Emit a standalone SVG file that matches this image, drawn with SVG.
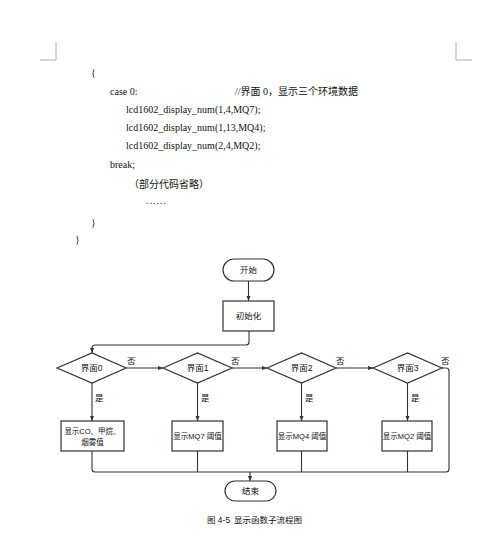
<svg xmlns="http://www.w3.org/2000/svg" width="500" height="542" viewBox="0 0 500 542">
<style>
.code{font-family:"Liberation Serif","Noto Sans CJK SC",serif;font-size:10px;fill:#111}
.lbl{font-family:"Liberation Sans","Noto Sans CJK SC",sans-serif;font-size:8.5px;fill:#111}
.sm{font-family:"Liberation Sans","Noto Sans CJK SC",sans-serif;font-size:7.5px;fill:#111}
.cap{font-family:"Liberation Sans","Noto Sans CJK SC",sans-serif;font-size:8.5px;fill:#111}
.shape{fill:#fff;stroke:#333;stroke-width:1.2}
.ln{fill:none;stroke:#333;stroke-width:1.1}
.mark{fill:none;stroke:#999;stroke-width:0.8}
</style>
<defs>
<marker id="ah" viewBox="0 0 10 10" refX="10" refY="5" markerWidth="5" markerHeight="5" orient="auto">
<path d="M0,1 L10,5 L0,9 z" fill="#333"/>
</marker>
</defs>
<rect width="500" height="542" fill="#fff"/>
<g id="corners">
<path class="mark" d="M56,42 V60 H40"/>
<path class="mark" d="M456,42 V60 H472"/>
</g>
<g id="code">
<text class="code" x="91" y="76">{</text>
<text class="code" x="110" y="95">case 0:</text>
<text class="code" x="235" y="95">//界面 0，显示三个环境数据</text>
<text class="code" x="126" y="113">lcd1602_display_num(1,4,MQ7);</text>
<text class="code" x="126" y="131">lcd1602_display_num(1,13,MQ4);</text>
<text class="code" x="126" y="149">lcd1602_display_num(2,4,MQ2);</text>
<text class="code" x="110" y="168">break;</text>
<text class="code" x="129" y="188">（部分代码省略）</text>
<text class="code" x="146" y="204">……</text>
<text class="code" x="91" y="226">}</text>
<text class="code" x="75" y="243">}</text>
</g>
<g id="connectors">
<path class="ln" d="M248.5,281 V301" marker-end="url(#ah)"/>
<path class="ln" d="M249,331 V342 Q249,345 246,345 H95 Q92,345 92,348 V353" marker-end="url(#ah)"/>
<path class="ln" d="M126,368 H163" marker-end="url(#ah)"/>
<path class="ln" d="M232,368 H267" marker-end="url(#ah)"/>
<path class="ln" d="M336,368 H373" marker-end="url(#ah)"/>
<path class="ln" d="M442,368 H446 Q449,368 449,371 V469 Q449,472 446,472 H95 Q92,472 92,469 V451"/>
<path class="ln" d="M92,383 V421" marker-end="url(#ah)"/>
<path class="ln" d="M197.5,383 V421" marker-end="url(#ah)"/>
<path class="ln" d="M301.5,383 V421" marker-end="url(#ah)"/>
<path class="ln" d="M407.5,383 V421" marker-end="url(#ah)"/>
<path class="ln" d="M197.5,451 V472"/>
<path class="ln" d="M301.5,451 V472"/>
<path class="ln" d="M407.5,451 V472"/>
<path class="ln" d="M250,472 V481" marker-end="url(#ah)"/>
<text class="lbl" x="127" y="364">否</text>
<text class="lbl" x="231" y="364">否</text>
<text class="lbl" x="336" y="364">否</text>
<text class="lbl" x="441" y="364">否</text>
<text class="lbl" x="95" y="401">是</text>
<text class="lbl" x="201" y="401">是</text>
<text class="lbl" x="305" y="401">是</text>
<text class="lbl" x="411" y="401">是</text>
</g>
<g id="start">
<rect class="shape" x="223" y="259" width="51" height="22" rx="11"/>
<text class="lbl" x="248.5" y="273" text-anchor="middle">开始</text>
</g>
<g id="init">
<rect class="shape" x="223" y="301" width="51" height="30"/>
<text class="lbl" x="248.5" y="319" text-anchor="middle">初始化</text>
</g>
<g id="d0">
<path class="shape" d="M57,368 L92,353 L126,368 L92,383 z"/>
<text class="lbl" x="91.5" y="371" text-anchor="middle">界面0</text>
</g>
<g id="d1">
<path class="shape" d="M163,368 L197.5,353 L232,368 L197.5,383 z"/>
<text class="lbl" x="197.5" y="371" text-anchor="middle">界面1</text>
</g>
<g id="d2">
<path class="shape" d="M267,368 L301.5,353 L336,368 L301.5,383 z"/>
<text class="lbl" x="301.5" y="371" text-anchor="middle">界面2</text>
</g>
<g id="d3">
<path class="shape" d="M373,368 L407.5,353 L442,368 L407.5,383 z"/>
<text class="lbl" x="407.5" y="371" text-anchor="middle">界面3</text>
</g>
<g id="b0">
<rect class="shape" x="61" y="421" width="63" height="30"/>
<text class="sm" x="92.5" y="434" text-anchor="middle">显示CO、甲烷、</text>
<text class="sm" x="92.5" y="445" text-anchor="middle">烟雾值</text>
</g>
<g id="b1">
<rect class="shape" x="172" y="421" width="51" height="30"/>
<text class="sm" x="197.5" y="439" text-anchor="middle">显示MQ7 阈值</text>
</g>
<g id="b2">
<rect class="shape" x="277" y="421" width="50" height="30"/>
<text class="sm" x="302" y="439" text-anchor="middle">显示MQ4 阈值</text>
</g>
<g id="b3">
<rect class="shape" x="382" y="421" width="50" height="30"/>
<text class="sm" x="407" y="439" text-anchor="middle">显示MQ2 阈值</text>
</g>
<g id="end">
<rect class="shape" x="225" y="481" width="51" height="20" rx="10"/>
<text class="lbl" x="250.5" y="494" text-anchor="middle">结束</text>
</g>
<g id="caption">
<text class="cap" x="207" y="523">图 4-5</text>
<text class="cap" x="234" y="523">显示函数子流程图</text>
</g>
</svg>
